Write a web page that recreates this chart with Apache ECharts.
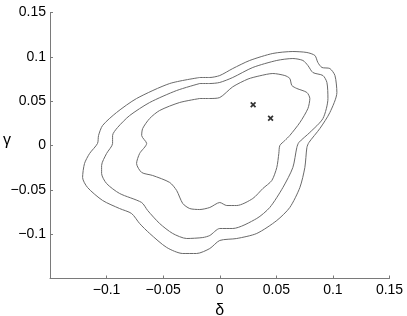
<!DOCTYPE html>
<html>
<head>
<meta charset="utf-8">
<script src="https://cdn.jsdelivr.net/npm/echarts@6/dist/echarts.min.js"></script>
<style>
html,body{margin:0;padding:0;background:#fff;}
#chart{width:407px;height:316px;}
</style>
</head>
<body>
<div id="chart"></div>
<script>
// Contour levels (delta, gamma)
var outerContour = [
[-0.0177,0.0767],[-0.0442,0.0699],[-0.0735,0.0530],[-0.0912,0.0372],[-0.1035,0.0226],
[-0.1071,0.0113],[-0.1080,0.0023],[-0.1150,-0.0090],[-0.1195,-0.0203],[-0.1212,-0.0361],
[-0.1168,-0.0474],[-0.1035,-0.0620],[-0.0885,-0.0711],[-0.0779,-0.0767],[-0.0708,-0.0880],
[-0.0619,-0.0992],[-0.0469,-0.1150],[-0.0327,-0.1218],[-0.0204,-0.1218],[-0.0088,-0.1162],
[0.0000,-0.1071],[0.0150,-0.1049],[0.0327,-0.0992],[0.0504,-0.0846],[0.0619,-0.0699],
[0.0708,-0.0474],[0.0752,-0.0248],[0.0770,-0.0023],[0.0788,0.0034],[0.0885,0.0192],
[0.0973,0.0372],[0.1035,0.0598],[0.1018,0.0789],[0.0973,0.0868],[0.0903,0.0880],
[0.0867,0.0936],[0.0841,0.1015],[0.0770,0.1049],[0.0646,0.1060],[0.0469,0.1038],
[0.0265,0.0959],[0.0115,0.0868],[0.0000,0.0789],[-0.0088,0.0767],[-0.0177,0.0767]
];
var middleContour = [
[-0.0177,0.0699],[-0.0381,0.0620],[-0.0619,0.0485],[-0.0796,0.0338],[-0.0903,0.0203],
[-0.0947,0.0113],[-0.0947,0.0023],[-0.1000,-0.0090],[-0.1044,-0.0226],[-0.1044,-0.0316],
[-0.1000,-0.0429],[-0.0885,-0.0541],[-0.0690,-0.0643],[-0.0637,-0.0733],[-0.0531,-0.0880],
[-0.0416,-0.0992],[-0.0292,-0.1049],[-0.0150,-0.1038],[-0.0088,-0.1015],[0.0000,-0.0936],
[0.0115,-0.0936],[0.0327,-0.0823],[0.0442,-0.0699],[0.0558,-0.0474],[0.0646,-0.0248],
[0.0681,-0.0023],[0.0699,0.0034],[0.0796,0.0147],[0.0912,0.0305],[0.0956,0.0530],
[0.0947,0.0711],[0.0912,0.0789],[0.0823,0.0823],[0.0779,0.0902],[0.0735,0.0959],
[0.0646,0.0981],[0.0504,0.0959],[0.0292,0.0880],[0.0115,0.0767],[0.0000,0.0711],
[-0.0088,0.0699],[-0.0177,0.0699]
];
var innerContour = [
[-0.0177,0.0530],[-0.0354,0.0485],[-0.0531,0.0395],[-0.0619,0.0305],[-0.0681,0.0192],
[-0.0690,0.0113],[-0.0646,0.0023],[-0.0708,-0.0090],[-0.0735,-0.0203],[-0.0690,-0.0304],
[-0.0593,-0.0338],[-0.0442,-0.0417],[-0.0381,-0.0507],[-0.0327,-0.0654],[-0.0265,-0.0711],
[-0.0177,-0.0722],[-0.0088,-0.0699],[0.0000,-0.0643],[0.0062,-0.0677],[0.0150,-0.0677],
[0.0292,-0.0598],[0.0381,-0.0485],[0.0460,-0.0395],[0.0504,-0.0248],[0.0522,-0.0090],
[0.0531,0.0000],[0.0575,0.0056],[0.0619,0.0113],[0.0708,0.0259],[0.0779,0.0417],
[0.0796,0.0530],[0.0770,0.0598],[0.0681,0.0643],[0.0637,0.0677],[0.0619,0.0756],
[0.0575,0.0789],[0.0469,0.0812],[0.0354,0.0786],[0.0250,0.0750],[0.0115,0.0662],
[0.0000,0.0541],[-0.0088,0.0530],[-0.0177,0.0530]
];
var peakPoints = [[0.0295,0.0459],[0.0449,0.0308]];
var hiddenTick = -0.15;
var xName = 'δ';
var yName = 'γ';

function fmt(v){
  if (Math.abs(v - hiddenTick) < 1e-9) return '';
  var s = String(Math.round(v*100)/100);
  return s.replace('-', '\u2212');
}

var lineColor = '#6a6a6a';
var axisColor = '#7a7a7a';
function contour(d){
  return {type:'line', data:d, showSymbol:false, symbol:'none', smooth:0.25,
    lineStyle:{color:lineColor, width:1}, silent:true, z:2};
}

var chart = echarts.init(document.getElementById('chart'), null, {renderer:'canvas'});
chart.setOption({
  animation:false,
  backgroundColor:'#ffffff',
  grid:{left:50, right:17.5, top:12.5, bottom:37.5, containLabel:false, outerBoundsMode:'none'},
  graphic:[
    {type:'text', left:3, top:133, style:{text:yName, font:'16px "Liberation Sans"', fill:'#000'}}
  ],
  xAxis:{type:'value', min:-0.15, max:0.15, interval:0.05,
    name:xName, nameLocation:'middle', nameGap:26,
    nameTextStyle:{fontFamily:'Liberation Sans', fontSize:16, color:'#000', verticalAlign:'middle', align:'center'},
    axisLine:{show:true, onZero:false, lineStyle:{color:axisColor, width:1}},
    axisTick:{show:true, inside:true, length:3, lineStyle:{color:axisColor}},
    axisLabel:{formatter:fmt, fontFamily:'Liberation Sans', fontSize:14, color:'#000', margin:5, showMinLabel:true, showMaxLabel:true},
    splitLine:{show:false}},
  yAxis:{type:'value', min:-0.15, max:0.15, interval:0.05,
    axisLine:{show:true, onZero:false, lineStyle:{color:axisColor, width:1}},
    axisTick:{show:true, inside:true, length:3, lineStyle:{color:axisColor}},
    axisLabel:{formatter:fmt, fontFamily:'Liberation Sans', fontSize:14, color:'#000', margin:4, showMinLabel:true, showMaxLabel:true},
    splitLine:{show:false}},
  series:[
    contour(outerContour),
    contour(middleContour),
    contour(innerContour),
    {type:'scatter', data:peakPoints, symbol:'path://M0,2L2,0L5,3L8,0L10,2L7,5L10,8L8,10L5,7L2,10L0,8L3,5Z',
     symbolSize:6, itemStyle:{color:'#000'}, silent:true, z:3}
  ]
});
</script>
</body>
</html>
